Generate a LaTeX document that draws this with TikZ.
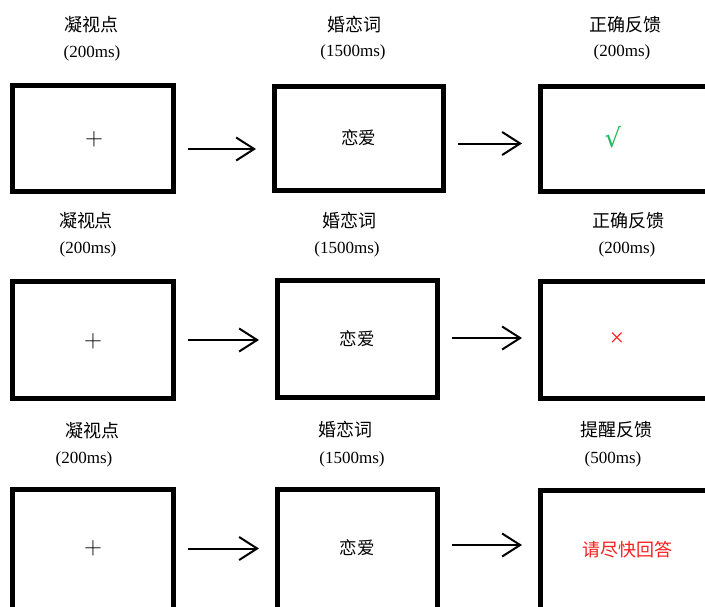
\documentclass[tikz,border=0pt]{standalone}
\usepackage{fontspec}
\setmainfont{Liberation Serif}
\newfontfamily\cjk{Noto Sans CJK SC}
\newfontfamily\symb{DejaVu Sans}
\usetikzlibrary{arrows.meta}
\definecolor{okgreen}{RGB}{40,185,95}
\definecolor{warnred}{RGB}{250,30,30}

\begin{document}
\begin{tikzpicture}[x=1pt, y=-1pt,
    screen/.style={draw, line width=5pt, inner sep=0pt},
    title/.style={font=\cjk\fontsize{18}{18}\selectfont, inner sep=0pt},
    dur/.style={font=\fontsize{17}{17}\selectfont, inner sep=0pt},
    word/.style={font=\cjk\fontsize{17.5}{17.5}\selectfont, inner sep=0pt},
    cross/.style={font=\fontsize{24}{24}\selectfont, inner sep=0pt},
    flow/.style={line width=2pt, -{Straight Barb[length=18pt, width=23pt, line width=2pt]}, shorten <=12pt, shorten >=16pt}]
  \useasboundingbox (0,0) rectangle (705,606);
  \clip (0,0) rectangle (705,606);

  % row 1
  \node[screen, minimum width=161pt, minimum height=106pt] (b11) at (93,138.5) {};
  \node[screen, minimum width=169pt, minimum height=104pt] (b12) at (359,138.5) {};
  \node[screen, minimum width=172pt, minimum height=105pt] (b13) at (626.5,139) {};
  \node[title] (t11) at (91,25) {凝视点};
  \node[dur] (d11) at (92,53) {(200ms)};
  \node[title] (t12) at (354,25) {婚恋词};
  \node[dur] (d12) at (353,52) {(1500ms)};
  \node[title] (t13) at (625,25) {正确反馈};
  \node[dur] (d13) at (622,52) {(200ms)};
  \node[cross] (c11) at (94,139) {$+$};
  \node[word] (c12) at (358.5,138) {恋爱};
  \node[font=\symb\fontsize{26}{26}\selectfont, text=okgreen, inner sep=0pt] (c13) at (613,137) {√};
  \draw[flow] ([yshift=-10.5pt]b11.east) -- ([yshift=-10.5pt]b11.east -| b12.west);
  \draw[flow] ([yshift=-5pt]b12.east) -- ([yshift=-5pt]b12.east -| b13.west);

  % row 2
  \node[screen, minimum width=161pt, minimum height=117pt] (b21) at (93,340) {};
  \node[screen, minimum width=160pt, minimum height=117pt] (b22) at (357.5,339) {};
  \node[screen, minimum width=172pt, minimum height=117pt] (b23) at (626.5,339.5) {};
  \node[title] (t21) at (86,221) {凝视点};
  \node[dur] (d21) at (88,249) {(200ms)};
  \node[title] (t22) at (349,221) {婚恋词};
  \node[dur] (d22) at (347,249) {(1500ms)};
  \node[title] (t23) at (628,221) {正确反馈};
  \node[dur] (d23) at (627,249) {(200ms)};
  \node[cross] (c21) at (93,341) {$+$};
  \node[word] (c22) at (357,339) {恋爱};
  \node[cross, font=\fontsize{26}{26}\selectfont, text=warnred] (c23) at (617,340) {×};
  \draw[flow] (b21.east) -- (b21.east -| b22.west);
  \draw[flow] ([yshift=1pt]b22.east) -- ([yshift=1pt]b22.east -| b23.west);

  % row 3
  \node[screen, minimum width=161pt, minimum height=130pt] (b31) at (93,554.5) {};
  \node[screen, minimum width=160pt, minimum height=130pt] (b32) at (357.5,554) {};
  \node[screen, minimum width=172pt, minimum height=130pt] (b33) at (626.5,555) {};
  \node[title] (t31) at (92,430.5) {凝视点};
  \node[dur] (d31) at (84,459) {(200ms)};
  \node[title] (t32) at (345,430) {婚恋词};
  \node[dur] (d32) at (352,459) {(1500ms)};
  \node[title] (t33) at (616.5,430) {提醒反馈};
  \node[dur] (d33) at (613,459) {(500ms)};
  \node[cross] (c31) at (93,548) {$+$};
  \node[word] (c32) at (357,548) {恋爱};
  \node[word, font=\cjk\fontsize{18}{18}\selectfont, text=warnred] (c33) at (627,550) {请尽快回答};
  \draw[flow] ([yshift=6pt]b31.east) -- ([yshift=6pt]b31.east -| b32.west);
  \draw[flow] ([yshift=9pt]b32.east) -- ([yshift=9pt]b32.east -| b33.west);
\end{tikzpicture}
\end{document}
